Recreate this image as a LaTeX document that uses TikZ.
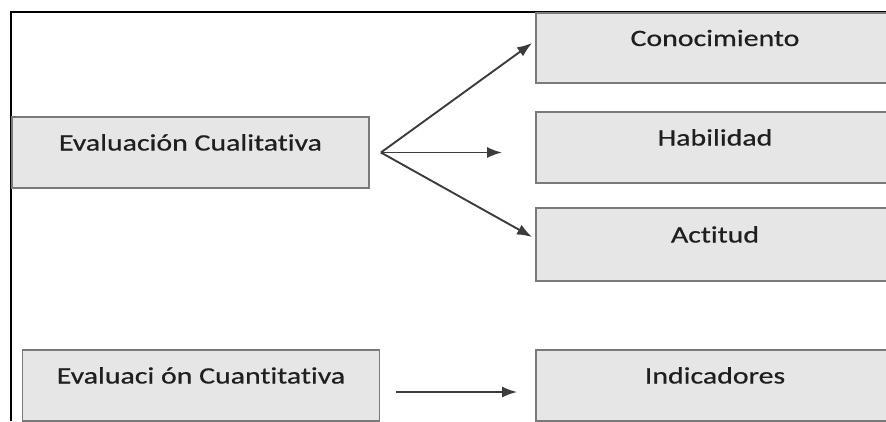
\documentclass[tikz,border=0pt]{standalone}
\usepackage{fontspec}
\newfontfamily\boxfont{Carlito}[FakeStretch=1.27, Ligatures=NoCommon, FakeBold=0.6]
\usetikzlibrary{arrows.meta}
\definecolor{boxfill}{HTML}{E6E6E6}
\definecolor{boxline}{HTML}{7A7A7A}
\definecolor{arrowcol}{HTML}{3C3C3C}
\begin{document}
\begin{tikzpicture}[x=1pt,y=-1pt,
  cat/.style={draw=boxline, line width=1.8pt, fill=boxfill, rectangle,
    minimum width=357pt, minimum height=71pt, inner sep=0pt,
    text height=10pt, text depth=14pt,
    font=\boxfont\fontsize{23.5pt}{28pt}\selectfont, text=black!88},
  link/.style={draw=arrowcol, line width=1.9pt,
    -{Latex[length=15pt,width=11pt]}}]
  \useasboundingbox (0,0) rectangle (886,421);
  \clip (0,0) rectangle (886,421);

  % outer frame (top and left edges)
  \draw[line width=2.2pt, black] (11,421) -- (11,12) -- (886,12);

  % left column
  \node[cat] (cual) at (190.5,152.5) {Evaluación Cualitativa};
  \node[cat] (cuan) at (201,385.5) {Evaluaci ón Cuantitativa};

  % right column
  \node[cat, minimum width=358pt, minimum height=70pt] (cono) at (715,48) {Conocimiento};
  \node[cat, minimum width=358pt] (habi) at (715,147.5) {Habilidad};
  \node[cat, minimum width=358pt, minimum height=73pt] (acti) at (715,244.5) {Actitud};
  \node[cat, minimum width=358pt] (indi) at (715,385.5) {Indicadores};

  % connectors
  \coordinate (fan) at ([xshift=11pt]cual.east);
  \draw[link] (fan) -- ([xshift=-3pt,yshift=5pt]cono.west);
  \draw[link] (fan) -- ([xshift=-33pt]habi.west |- fan);
  \draw[link] (fan) -- ([xshift=-3pt,yshift=7.5pt]acti.west);
  \coordinate (cuanout) at ([xshift=16pt,yshift=-6.5pt]cuan.east);
  \draw[link] (cuanout) -- ([xshift=-18pt]indi.west |- cuanout);
\end{tikzpicture}
\end{document}
